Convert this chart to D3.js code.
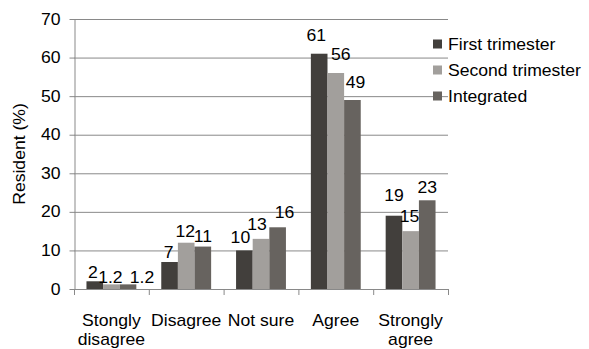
<!DOCTYPE html>
<html>
<head>
<meta charset="utf-8">
<script src="https://cdn.jsdelivr.net/npm/d3@7/dist/d3.min.js"></script>
<style>
  html, body { margin: 0; padding: 0; background: #fff; }
  svg { display: block; font-family: "Liberation Sans", Arial, sans-serif; }
</style>
</head>
<body>
<svg id="chart" width="589" height="349"></svg>
<script>
// Survey responses by residency stage (percent of residents)
const categories = [["Stongly", "disagree"], ["Disagree"], ["Not sure"], ["Agree"], ["Strongly", "agree"]];
const seriesNames = ["First trimester", "Second trimester", "Integrated"];
const firstTrimester = [2, 7, 10, 61, 19];
const secondTrimester = [1.2, 12, 13, 56, 15];
const integrated = [1.2, 11, 16, 49, 23];
const yTicks = [0, 10, 20, 30, 40, 50, 60, 70];

// small hand adjustments of value labels [dx, dy] so they don't collide
const labelNudge = [
  [[-2, 3], [-1, 2], [-4, -1], [-3, -7], [0, -9]],
  [[-1, 5], [-1, 0], [-4, -3], [5, -7], [-1, -3]],
  [[14, 5], [0, 1], [7, -3], [3, -6], [0, -1]]
];

const seriesValues = [firstTrimester, secondTrimester, integrated];
const colors = ["#423f3c", "#a29f9c", "#67635f"];
const stretch = 1.1;    // wide glyph rendering
const fontSize = 16;

const svg = d3.select("#chart");
const margin = { left: 74, right: 141, top: 19, bottom: 60 };
const W = 589, H = 349;
const plotL = margin.left, plotR = W - margin.right, plotT = margin.top, plotB = H - margin.bottom;

const x0 = d3.scaleBand().domain(d3.range(categories.length)).range([plotL, plotR]).paddingInner(0).paddingOuter(0);
const x1 = d3.scaleBand().domain(d3.range(seriesNames.length)).range([0, x0.bandwidth()]).paddingInner(0).paddingOuter(0.75);
const y = d3.scaleLinear().domain([0, 70]).range([plotB, plotT]);

const gridColor = "#898989";

// text helper: glyphs widened along the writing direction
function wideText(parent, x, yPos, str, anchor, rotate) {
  const g = parent.append("g")
    .attr("transform", `translate(${x},${yPos}) rotate(${rotate || 0}) scale(${stretch},1)`);
  g.append("text")
    .attr("x", 0).attr("y", 0)
    .attr("text-anchor", anchor || "middle")
    .attr("font-size", fontSize)
    .attr("fill", "#000")
    .text(str);
  return g;
}

// horizontal gridlines
svg.append("g").selectAll("line")
  .data(yTicks.filter(t => t > 0))
  .join("line")
  .attr("x1", plotL).attr("x2", plotR)
  .attr("y1", d => y(d) + 0.5).attr("y2", d => y(d) + 0.5)
  .attr("stroke", gridColor).attr("stroke-width", 1);

// y axis
const yAxis = svg.append("g")
  .attr("transform", `translate(${plotL + 0.5},0)`)
  .call(d3.axisLeft(y).tickValues(yTicks).tickSize(5).tickPadding(9).tickSizeOuter(0));
yAxis.select(".domain").attr("stroke", gridColor);
yAxis.selectAll(".tick line").attr("stroke", gridColor);
yAxis.selectAll(".tick text")
  .attr("font-size", fontSize)
  .attr("font-family", "Liberation Sans, Arial, sans-serif")
  .attr("fill", "#000")
  .attr("x", -14 / stretch)
  .attr("transform", `scale(${stretch},1)`);

// bars
const groups = svg.append("g").selectAll("g")
  .data(categories.map((c, i) => i))
  .join("g")
  .attr("transform", i => `translate(${x0(i)},0)`);

groups.selectAll("rect")
  .data(i => seriesValues.map((vals, s) => ({ s, i, v: vals[i] })))
  .join("rect")
  .attr("x", d => x1(d.s))
  .attr("width", x1.bandwidth())
  .attr("y", d => y(d.v))
  .attr("height", d => y(0) - y(d.v))
  .attr("fill", d => colors[d.s]);

// value labels
const labelLayer = svg.append("g");
seriesValues.forEach((vals, s) => {
  vals.forEach((v, i) => {
    const cx = x0(i) + x1(s) + x1.bandwidth() / 2 + labelNudge[s][i][0];
    const by = y(v) - 6 + labelNudge[s][i][1];
    wideText(labelLayer, cx, by, String(v), "middle");
  });
});

// x axis baseline with category dividers
const xAxis = svg.append("g");
xAxis.append("line")
  .attr("x1", plotL).attr("x2", plotR)
  .attr("y1", plotB + 0.5).attr("y2", plotB + 0.5)
  .attr("stroke", gridColor);
xAxis.selectAll("line.tick")
  .data(d3.range(categories.length + 1))
  .join("line")
  .attr("class", "tick")
  .attr("x1", i => (i < categories.length ? x0(i) : plotR) + 0.5)
  .attr("x2", i => (i < categories.length ? x0(i) : plotR) + 0.5)
  .attr("y1", plotB).attr("y2", plotB + 6)
  .attr("stroke", gridColor);

// category labels
categories.forEach((lines, i) => {
  const cx = x0(i) + x0.bandwidth() / 2;
  lines.forEach((ln, k) => {
    wideText(xAxis, cx, plotB + 37 + k * 19, ln, "middle");
  });
});

// y axis title
wideText(svg, 25, (plotT + plotB) / 2, "Resident (%)", "middle", -90);

// legend
const legend = svg.append("g");
seriesNames.forEach((name, s) => {
  const cy = 44 + s * 26;
  legend.append("rect")
    .attr("x", 433).attr("y", cy - 4.5)
    .attr("width", 9).attr("height", 9)
    .attr("fill", colors[s]);
  wideText(legend, 448, cy + 5.5, name, "start");
});
</script>
</body>
</html>
